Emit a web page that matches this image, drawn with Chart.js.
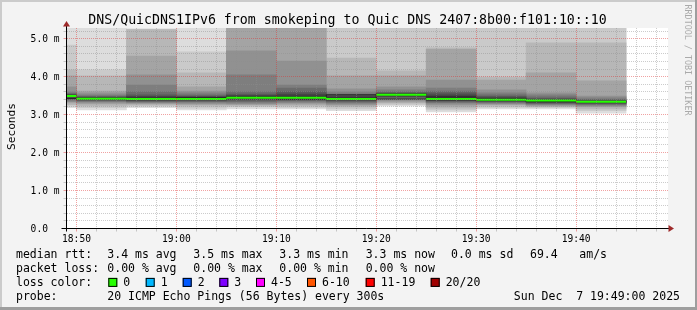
<!DOCTYPE html>
<html>
<head>
<meta charset="utf-8">
<script src="https://cdn.jsdelivr.net/npm/chart.js@4.4.1/dist/chart.umd.min.js"></script>
<style>
    html, body { margin: 0; padding: 0; background: #f3f3f3; }
    canvas { display: block; }
</style>
</head>
<body>
<canvas id="smokeChart" width="697" height="310"></canvas>
<script>
// start of every 5 minute slot
var slots = ['18:45', '18:50', '18:55', '19:00', '19:05', '19:10', '19:15', '19:20', '19:25', '19:30', '19:35', '19:40'];

// median rtt per slot (ms)
var median = [3.49, 3.42, 3.41, 3.41, 3.44, 3.44, 3.41, 3.52, 3.41, 3.39, 3.37, 3.34];

// the 20 pings of every slot, sorted (ms): ping01 fastest ... ping20 slowest
var ping01 = [3.18, 3.12, 3.18, 3.12, 3.15, 3.15, 3.10, 3.23, 3.07, 3.15, 3.15, 3.04];
var ping02 = [3.22, 3.18, 3.22, 3.17, 3.20, 3.19, 3.15, 3.26, 3.12, 3.19, 3.18, 3.10];
var ping03 = [3.26, 3.23, 3.25, 3.22, 3.23, 3.23, 3.20, 3.30, 3.17, 3.22, 3.21, 3.15];
var ping04 = [3.31, 3.28, 3.28, 3.26, 3.26, 3.27, 3.24, 3.33, 3.22, 3.26, 3.23, 3.20];
var ping05 = [3.34, 3.31, 3.30, 3.29, 3.28, 3.30, 3.27, 3.36, 3.27, 3.28, 3.25, 3.22];
var ping06 = [3.36, 3.34, 3.32, 3.32, 3.31, 3.33, 3.30, 3.40, 3.31, 3.30, 3.27, 3.25];
var ping07 = [3.40, 3.36, 3.34, 3.34, 3.34, 3.36, 3.33, 3.43, 3.33, 3.32, 3.29, 3.27];
var ping08 = [3.43, 3.37, 3.36, 3.36, 3.37, 3.38, 3.35, 3.46, 3.35, 3.34, 3.31, 3.29];
var ping09 = [3.45, 3.39, 3.37, 3.38, 3.40, 3.40, 3.37, 3.48, 3.37, 3.36, 3.33, 3.31];
var ping10 = [3.47, 3.40, 3.39, 3.39, 3.42, 3.42, 3.39, 3.50, 3.39, 3.37, 3.35, 3.33];
var ping11 = [3.51, 3.44, 3.45, 3.44, 3.48, 3.49, 3.45, 3.54, 3.48, 3.43, 3.38, 3.35];
var ping12 = [3.52, 3.45, 3.48, 3.47, 3.51, 3.54, 3.48, 3.55, 3.52, 3.45, 3.40, 3.36];
var ping13 = [3.53, 3.47, 3.52, 3.49, 3.54, 3.60, 3.51, 3.57, 3.57, 3.48, 3.43, 3.38];
var ping14 = [3.56, 3.49, 3.60, 3.52, 3.60, 3.70, 3.54, 3.60, 3.62, 3.52, 3.47, 3.40];
var ping15 = [3.60, 3.52, 3.78, 3.57, 4.05, 3.78, 3.60, 3.65, 3.70, 3.57, 3.52, 3.44];
var ping16 = [3.73, 3.57, 4.05, 3.62, 4.68, 4.41, 3.68, 3.73, 3.91, 3.65, 3.57, 3.49];
var ping17 = [4.02, 3.62, 4.54, 3.73, 5.60, 5.50, 4.02, 4.02, 4.72, 3.91, 4.10, 3.89];
var ping18 = [4.18, 4.02, 5.24, 4.10, 6.00, 5.80, 4.49, 4.15, 4.76, 3.99, 4.89, 4.89];
var ping19 = [4.83, 4.18, 5.25, 4.65, 6.50, 6.20, 5.70, 5.50, 5.60, 5.50, 5.60, 5.70];
var ping20 = [6.20, 6.00, 5.26, 6.40, 7.10, 6.80, 6.30, 5.90, 6.10, 5.80, 6.00, 6.20];

var lossLabels = ['0', '1', '2', '3', '4-5', '6-10', '11-19', '20/20'];
var lossColors = ['#26ff00', '#00b8ff', '#0059ff', '#7e00ff', '#ff00ff', '#ff5500', '#ff0000', '#a00000'];

var title = 'DNS/QuicDNS1IPv6 from smokeping to Quic DNS 2407:8b00:f101:10::10';
var rttRow = ['median rtt:', '3.4 ms avg', '3.5 ms max', '3.3 ms min', '3.3 ms now', '0.0 ms sd', '69.4', 'am/s'];
var lossRow = ['packet loss:', '0.00 % avg', '0.00 % max', '0.00 % min', '0.00 % now'];
var probeText = '20 ICMP Echo Pings (56 Bytes) every 300s';
var stamp = 'Sun Dec  7 19:49:00 2025';

var pings = [ping01, ping02, ping03, ping04, ping05, ping06, ping07, ping08, ping09, ping10,
             ping11, ping12, ping13, ping14, ping15, ping16, ping17, ping18, ping19, ping20];

var step = 5;
// minutes after 18:00
function toMin(s) {
    var p = s.split(':');
    return (parseInt(p[0], 10) - 18) * 60 + parseInt(p[1], 10);
}
function fmtMin(m) {
    var h = 18 + Math.floor(m / 60);
    var mm = m % 60;
    return h + ':' + (mm < 10 ? '0' : '') + mm;
}
var xMin = toMin('18:49');
var xMax = xMin + 60.2;

var mono = '"DejaVu Sans Mono", monospace';
var gridMinor = 'rgba(143, 143, 143, 0.45)';
var gridMajor = 'rgba(222, 48, 48, 0.45)';

var datasets = [];

// smoke: band k goes from ping k to ping 21-k, outer bands light, inner dark
for (var k = 1; k <= 10; k++) {
    var lo = pings[k - 1];
    var hi = pings[20 - k];
    var g = 50 + 19 * (10 - k);
    datasets.push({
        type: 'bar',
        xAxisID: 'xb',
        yAxisID: 'y',
        order: 20 - k,
        data: slots.map(function (s, i) { return { x: toMin(s) + step / 2, y: [lo[i], hi[i]] }; }),
        backgroundColor: 'rgb(' + g + ',' + g + ',' + g + ')',
        borderWidth: 0,
        barPercentage: 1,
        categoryPercentage: 1,
        grouped: false,
        clip: 0
    });
}

// median: dark steps, green per slot (0 loss)
var last = slots.length - 1;
var medianSteps = slots.map(function (s, i) { return { x: toMin(s), y: median[i] }; });
medianSteps.push({ x: toMin(slots[last]) + step, y: median[last] });
var medianSegs = [];
slots.forEach(function (s, i) {
    var t = toMin(s);
    medianSegs.push({ x: t, y: median[i] }, { x: t + step, y: median[i] }, { x: t + step, y: null });
});
datasets.push({
    type: 'line', xAxisID: 'x', yAxisID: 'y', order: 2,
    data: medianSteps, stepped: 'after',
    borderColor: '#202020', borderWidth: 1, pointRadius: 0, fill: false, clip: 0
});
datasets.push({
    type: 'line', xAxisID: 'x', yAxisID: 'y', order: 1,
    data: medianSegs, spanGaps: false,
    borderColor: lossColors[0], borderWidth: 2, pointRadius: 0, fill: false, clip: 0
});

var rrdFrame = {
    id: 'rrdFrame',
    beforeDraw: function (chart) {
        var ctx = chart.ctx;
        var a = chart.chartArea;
        ctx.save();
        ctx.fillStyle = '#f3f3f3';
        ctx.fillRect(0, 0, chart.width, chart.height);
        ctx.fillStyle = '#cbcbcb';
        ctx.fillRect(0, 0, chart.width, 2);
        ctx.fillRect(0, 0, 2, chart.height);
        ctx.fillStyle = '#9e9e9e';
        ctx.fillRect(0, chart.height - 3, chart.width, 3);
        ctx.fillRect(chart.width - 2, 0, 2, chart.height);
        ctx.fillStyle = '#ffffff';
        ctx.fillRect(a.left, a.top, a.right - a.left, a.bottom - a.top);
        ctx.restore();
    },
    afterDraw: function (chart) {
        var ctx = chart.ctx;
        var a = chart.chartArea;
        ctx.save();

        // axes with arrows
        ctx.strokeStyle = '#000';
        ctx.lineWidth = 1;
        ctx.beginPath();
        ctx.moveTo(a.left - 5, a.bottom);
        ctx.lineTo(a.right + 4, a.bottom);
        ctx.moveTo(a.left, a.bottom + 3);
        ctx.lineTo(a.left, a.top - 4);
        ctx.stroke();
        ctx.fillStyle = '#9e2a2a';
        ctx.beginPath();
        ctx.moveTo(a.left, a.top - 7);
        ctx.lineTo(a.left - 3.5, a.top - 1.5);
        ctx.lineTo(a.left + 3.5, a.top - 1.5);
        ctx.closePath();
        ctx.fill();
        ctx.beginPath();
        ctx.moveTo(a.right + 6, a.bottom);
        ctx.lineTo(a.right + 0.5, a.bottom - 3.5);
        ctx.lineTo(a.right + 0.5, a.bottom + 3.5);
        ctx.closePath();
        ctx.fill();

        // title
        ctx.fillStyle = '#000';
        ctx.font = '13.25px ' + mono;
        ctx.textAlign = 'center';
        ctx.textBaseline = 'alphabetic';
        ctx.fillText(title, 347.5, 23.5);

        // y axis label
        ctx.save();
        ctx.font = '11.2px ' + mono;
        ctx.translate(15, 126.5);
        ctx.rotate(-Math.PI / 2);
        ctx.fillText('Seconds', 0, 0);
        ctx.restore();

        // watermark
        ctx.save();
        ctx.fillStyle = '#aaaaaa';
        ctx.font = '8.4px ' + mono;
        ctx.translate(685, 60);
        ctx.rotate(Math.PI / 2);
        ctx.fillText('RRDTOOL / TOBI OETIKER', 0, 0);
        ctx.restore();

        // legend
        var cols = [16, 107.3, 193.3, 279.3, 365.7, 451, 530, 579.3];
        var rows = [258.3, 272.1, 285.9, 299.7];
        ctx.font = '11.5px ' + mono;
        ctx.textAlign = 'left';
        ctx.fillStyle = '#000';
        rttRow.forEach(function (t, i) { ctx.fillText(t, cols[i], rows[0]); });
        lossRow.forEach(function (t, i) { ctx.fillText(t, cols[i], rows[1]); });
        ctx.fillText('loss color:', cols[0], rows[2]);
        var boxX = [108.3, 145.7, 182.7, 219.3, 256, 307, 365.7, 430.7];
        lossLabels.forEach(function (t, i) {
            ctx.fillStyle = lossColors[i];
            ctx.fillRect(boxX[i], rows[2] - 8, 9, 9);
            ctx.strokeStyle = '#000';
            ctx.strokeRect(boxX[i] + 0.5, rows[2] - 7.5, 8, 8);
            ctx.fillStyle = '#000';
            ctx.fillText(t, boxX[i] + 15, rows[2]);
        });
        ctx.fillText('probe:', cols[0], rows[3]);
        ctx.fillText(probeText, cols[1], rows[3]);
        ctx.textAlign = 'right';
        ctx.fillText(stamp, 680, rows[3]);
        ctx.restore();
    }
};

function isMajorX(c) { return c.tick && c.tick.value % 10 === 0; }
function isMajorY(c) { return c.tick && Math.abs(c.tick.value - Math.round(c.tick.value)) < 1e-6; }

var smokeChart = new Chart(document.getElementById('smokeChart').getContext('2d'), {
    type: 'line',
    data: { datasets: datasets },
    plugins: [rrdFrame],
    options: {
        responsive: false,
        animation: false,
        devicePixelRatio: 1,
        events: [],
        layout: { padding: { left: 29.5, right: 29, top: 28, bottom: 61.5 } },
        plugins: {
            legend: { display: false },
            tooltip: { enabled: false },
            title: { display: false }
        },
        scales: {
            x: {
                type: 'linear',
                position: 'bottom',
                min: xMin,
                max: xMax,
                offset: false,
                grid: {
                    z: 1,
                    offset: false,
                    lineWidth: 1,
                    tickLength: 3,
                    color: function (c) { return isMajorX(c) ? gridMajor : gridMinor; }
                },
                border: { display: false, dash: [1, 1] },
                ticks: {
                    stepSize: 2,
                    autoSkip: false,
                    maxRotation: 0,
                    includeBounds: false,
                    maxTicksLimit: 100,
                    padding: 2,
                    color: '#000',
                    font: { family: mono, size: 9.6 },
                    callback: function (v) { return v % 10 === 0 ? fmtMin(v) : ''; }
                },
                afterFit: function (s) { s.height = 20; }
            },
            xb: {
                type: 'linear',
                display: false,
                min: xMin,
                max: xMax,
                offset: false,
                ticks: { stepSize: step, includeBounds: false, maxTicksLimit: 100 }
            },
            y: {
                type: 'linear',
                position: 'left',
                min: 0,
                max: 5.28,
                grid: {
                    z: 1,
                    lineWidth: 1,
                    tickLength: 3,
                    color: function (c) { return isMajorY(c) ? gridMajor : gridMinor; }
                },
                border: { display: false, dash: [1, 1] },
                ticks: {
                    stepSize: 0.2,
                    autoSkip: false,
                    includeBounds: false,
                    maxTicksLimit: 100,
                    padding: 4,
                    labelOffset: 1,
                    color: '#000',
                    font: { family: mono, size: 9.6 },
                    callback: function (v) {
                        var r = Math.round(v * 10) / 10;
                        if (Math.abs(r - Math.round(r)) > 1e-6) return '';
                        return r === 0 ? '0.0  ' : r.toFixed(1) + ' m';
                    }
                },
                afterFit: function (s) { s.width = 37; }
            }
        }
    }
});
</script>
</body>
</html>
